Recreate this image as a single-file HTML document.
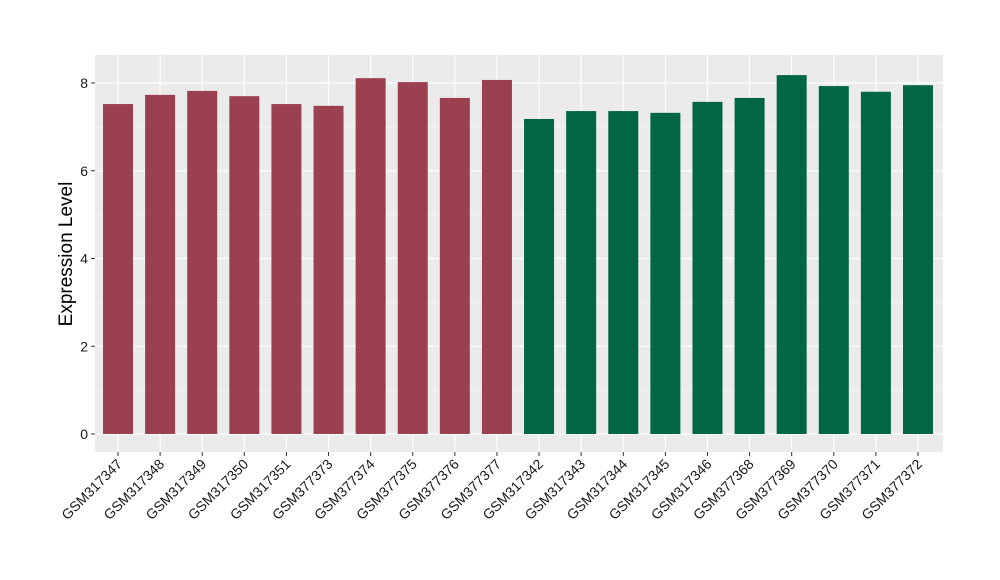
<!DOCTYPE html>
<html><head><meta charset="utf-8"><style>
body{margin:0;background:#fff;}
svg{display:block;font-family:"Liberation Sans",Arial,sans-serif;}
</style></head><body>
<svg id="chart" width="1000" height="580">
<rect x="95" y="55" width="848" height="397" fill="#ebebeb"/>
<g id="grid"></g><g id="bars"></g><g id="axes"></g>
<text transform="translate(72,254) rotate(-90)" text-anchor="middle" font-size="19" fill="#000">Expression Level</text>
</svg>
<script>
const categories=["GSM317347","GSM317348","GSM317349","GSM317350","GSM317351","GSM377373","GSM377374","GSM377375","GSM377376","GSM377377","GSM317342","GSM317343","GSM317344","GSM317345","GSM317346","GSM377368","GSM377369","GSM377370","GSM377371","GSM377372"];
const values=[7.52,7.73,7.82,7.70,7.52,7.48,8.11,8.02,7.66,8.07,7.18,7.36,7.36,7.32,7.57,7.66,8.18,7.93,7.80,7.95];
const groups=["a","a","a","a","a","a","a","a","a","a","b","b","b","b","b","b","b","b","b","b"];
const yTicks=[0,2,4,6,8];
const colors={a:"#9b404f",b:"#006644"};
const NS="http://www.w3.org/2000/svg";
const px0=95,px1=943,py0=55,py1=452;
const y=v=>434-v*(434-83)/8;
const x=i=>118+i*(918-118)/(categories.length-1);
const bw=30;
function mk(t,a,p){const e=document.createElementNS(NS,t);for(const k in a)e.setAttribute(k,a[k]);p.appendChild(e);return e;}
const grid=document.getElementById('grid'),bars=document.getElementById('bars'),axes=document.getElementById('axes');
for(let k=0;k<yTicks.length;k++){
 const v=yTicks[k];
 if(k<yTicks.length-1){const m=mk('line',{x1:px0,x2:px1,y1:y(v+1),y2:y(v+1),stroke:"#fff","stroke-width":0.6},grid);
 
 }
 const g=mk('line',{x1:px0,x2:px1,y1:y(v),y2:y(v),stroke:"#fff","stroke-width":1.2},grid);
 
 
 const t=mk('line',{x1:91,x2:95,y1:y(v),y2:y(v),stroke:"#333"},axes);
 
 
 const l=mk('text',{x:88,y:y(v)+5,"text-anchor":"end","font-size":14,fill:"#1a1a1a"},axes);
 l.textContent=v;
 
 
}
categories.forEach((c,i)=>{
 const g=mk('line',{x1:x(i),x2:x(i),y1:py0,y2:py1,stroke:"#fff","stroke-width":1.2},grid);
 
 
 const r=mk('rect',{x:x(i)-bw/2,y:y(values[i]),width:bw,height:y(0)-y(values[i]),fill:colors[groups[i]]},bars);
 
 
 const t=mk('line',{x1:x(i),x2:x(i),y1:py1,y2:py1+4,stroke:"#333"},axes);
 
 
 const l=mk('text',{transform:`translate(${x(i)+5},${py1+13}) rotate(-45)`,"text-anchor":"end","font-size":14,fill:"#1a1a1a"},axes);
 l.textContent=c;
 
 
});
</script>
</body></html>
